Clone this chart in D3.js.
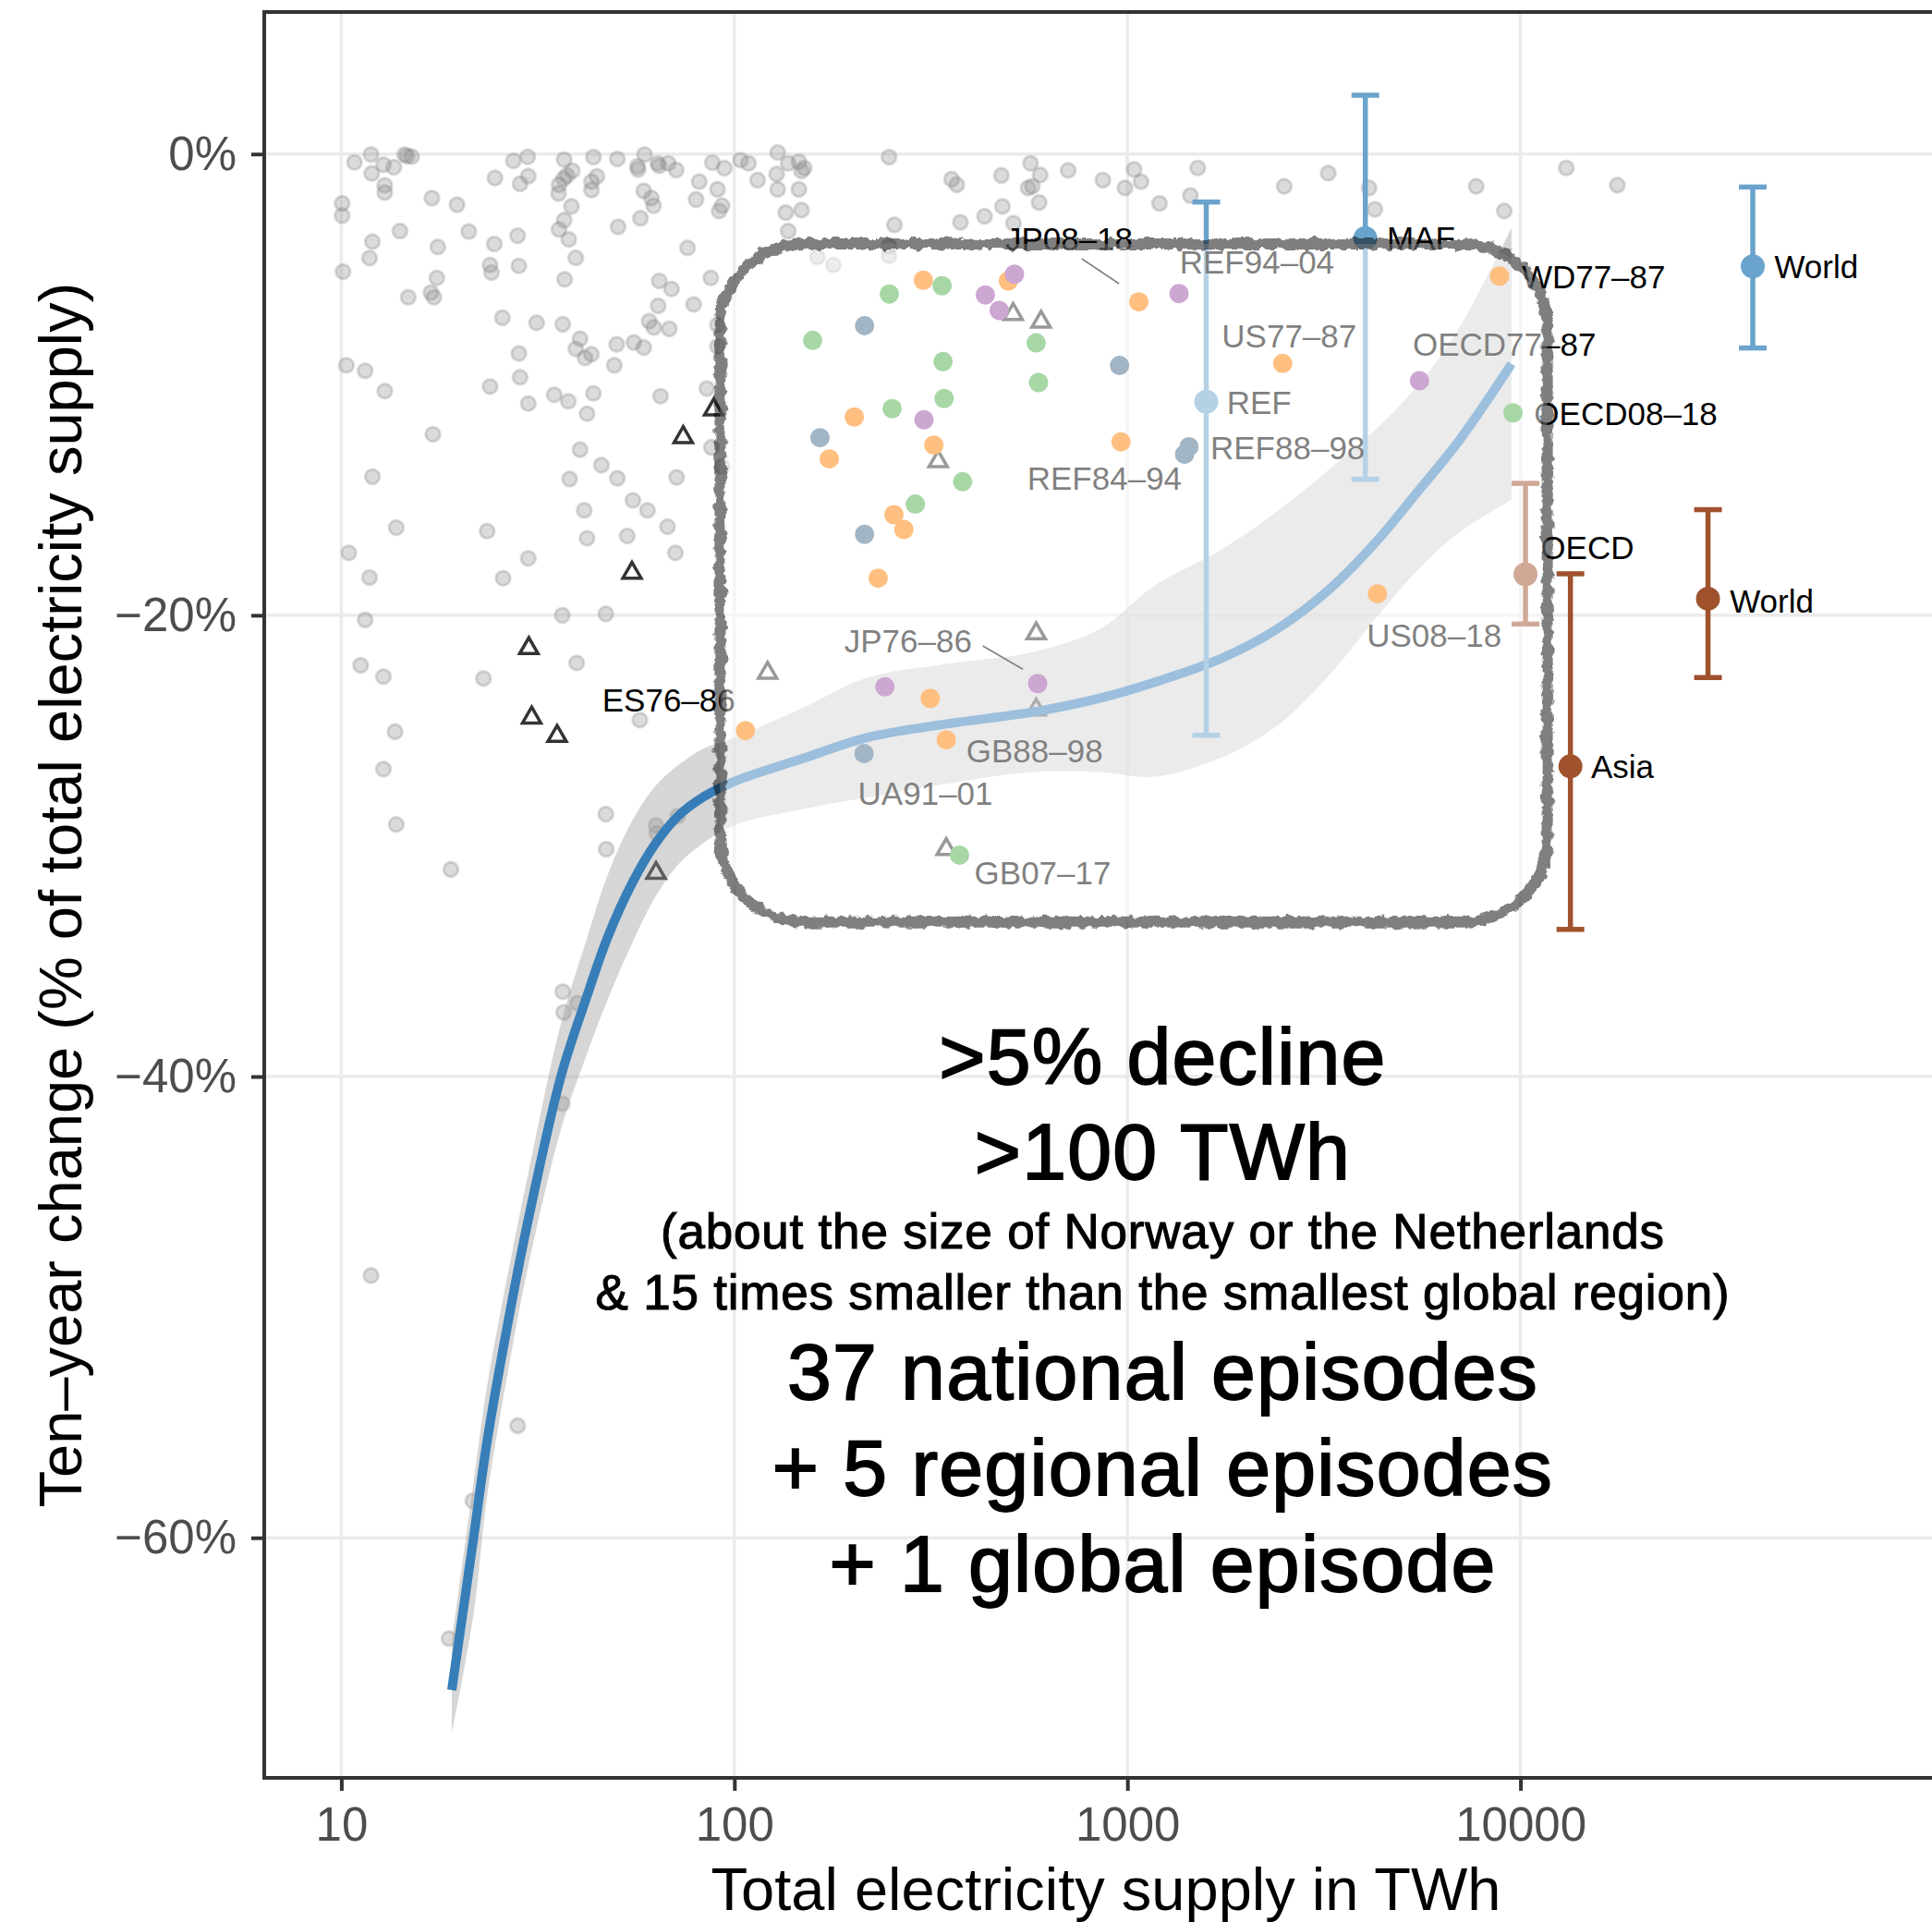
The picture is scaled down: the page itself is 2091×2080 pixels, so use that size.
<!DOCTYPE html>
<html lang="en">
  <head>
    <meta charset="utf-8">
    <title>Ten-year declines in electricity supply</title>
    <style>
      body { margin: 0; background: #fff; }
      svg { display: block; font-family: "Liberation Sans", Arial, Helvetica, sans-serif; }
    </style>
  </head>
  <body>
    <svg width="2091" height="2080"></svg>
    <script src="https://cdn.jsdelivr.net/npm/d3@7/dist/d3.min.js"></script>
    <script>
      // every other ten-year change: [TWh, % change]
      const otherEpisodes = [
        [10.8,-0.36],[11.9,-0.02],[11.95,-0.84],[12.8,-0.46],[13.6,-0.57],[14.5,-0.02],[14.7,-0.09],[15.1,-0.11],
        [12.9,-1.36],[12.9,-1.67],[10.05,-2.14],[10.05,-2.67],[17.0,-1.91],[19.7,-2.2],[24.6,-1.04],[27.4,-0.29],
        [29.8,-0.12],[29.9,-0.96],[28.5,-1.29],[36.9,-0.24],[38.7,-0.73],[36.8,-1.07],[35.8,-1.33],[35.7,-1.71],
        [37.5,-0.93],[43.8,-0.13],[44.7,-0.97],[43.3,-1.2],[43.3,-1.56],[50.4,-0.21],[56.7,-0.53],[56.9,-0.67],
        [59.1,-0.02],[63.8,-0.4],[64.4,-0.51],[67.9,-0.4],[71.1,-0.69],[58.8,-1.6],[61.5,-1.91],[62.3,-2.24],
        [81.4,-1.2],[79.9,-1.97],[90.6,-1.53],[93.1,-2.24],[91.5,-2.47],[87.9,-0.37],[94.3,-0.61],[38.5,-2.27],
        [36.9,-2.87],[35.8,-3.27],[37.9,-3.7],[39.5,-4.5],[37.0,-5.43],[50.6,-3.16],[57.7,-2.78],[14.1,-3.34],
        [12.0,-3.8],[11.8,-4.51],[10.1,-5.1],[17.6,-4.03],[21.1,-3.36],[24.5,-3.9],[28.1,-3.54],[23.9,-4.81],
        [24.1,-5.14],[28.3,-4.85],[17.5,-5.37],[16.9,-6.01],[17.2,-6.21],[14.8,-6.21],[76.0,-4.07],[87.1,-5.37],
        [64.4,-5.5],[69.2,-5.85],[64.0,-6.58],[78.8,-6.52],[60.7,-7.25],[62.4,-7.52],[68.3,-7.58],[25.7,-7.1],
        [31.4,-7.32],[36.6,-7.38],[40.5,-8.01],[39.5,-8.45],[41.7,-8.84],[43.3,-8.68],[50.2,-8.25],[55.5,-8.17],
        [58.8,-8.39],[49.5,-9.16],[28.3,-8.65],[28.5,-9.68],[23.9,-10.08],[29.9,-10.82],[34.8,-10.44],[37.8,-10.72],
        [43.8,-10.38],[42.2,-11.26],[64.9,-10.5],[85.1,-10.17],[10.3,-9.16],[11.5,-9.4],[12.9,-10.28],[17.1,-12.15],
        [40.5,-12.82],[45.9,-13.49],[50.4,-14.06],[71.3,-14.02],[87.4,-12.72],[12.0,-13.99],[38.1,-14.09],
        [90.6,-7.41],[90.6,-8.34],[93.1,-13.55],
        [13.8,-16.2],[10.45,-17.29],[11.8,-18.36],[11.5,-20.2],[11.2,-22.17],[12.8,-22.66],[13.7,-25.05],[12.8,-26.67],
        [13.8,-29.07],[19.0,-31.02],[23.5,-16.35],[29.9,-17.53],[25.8,-18.39],[23.0,-22.74],[36.5,-20.0],[47.1,-19.94],
        [39.7,-22.07],[57.5,-24.54],[55.2,-15.02],[60.1,-15.45],[41.5,-15.45],[42.2,-16.66],[53.4,-16.56],[67.6,-16.16],
        [70.8,-17.29],[47.1,-28.62],[47.2,-30.14],[63.2,-29.11],[63.5,-29.45],[71.7,-28.71],
        [36.6,-36.32],[36.8,-37.22],[39.9,-36.82],[36.5,-41.18],[11.9,-48.63],[28.1,-55.14],[21.6,-58.4],[18.8,-64.37],
        [103.7,-0.26],[108.6,-0.4],[128.9,0.07],[137.1,-0.4],[145.9,-0.33],[150.6,-0.6],[148.2,-0.73],[114.6,-1.13],
        [128.1,-0.87],[128.9,-1.53],[145.9,-1.53],[135.1,-2.54],[148.2,-2.43],[137.1,-3.34],[247.5,-0.13],[255.4,-3.07],
        [357,-1.09],[368,-1.33],[376,-2.96],[433,-2.7],[478,-0.93],[481,-2.27],[513,-3.0],[567,-0.4],
        [600,-0.91],[559,-1.47],[573,-1.4],[596,-2.1],[707,-0.71],[866,-1.13],[986,-1.47],[1040,-0.67],
        [1083,-1.2],[1207,-2.14],[1446,-1.8],[1510,-0.6],[2506,-1.4],[3243,-0.83],[4119,-1.47],[4261,-2.4],
        [7716,-1.4],[9095,-2.47],[13080,-0.6],[17640,-1.35],
        [162.7,-4.47],[178.6,-4.81],[247.5,-4.0],[247.5,-4.41]
      ];

      // declines of more than 5% but smaller than 100 TWh
      const smallDeclines = [
        [88.6,-11.08],[74.1,-12.28],[54.9,-18.16],[30.0,-21.43],[30.5,-24.44],[35.4,-25.24],[63.2,-31.18],
        [512,-6.94],[603,-7.28],[330,-13.33],[121.5,-22.5],[586,-20.79],[586,-24.09],[346,-30.14]
      ];

      // the 43 large episodes: [TWh, % change, series]
      const largeDeclines = [
        [302.5,-5.47,0],[498,-5.5,0],[1069,-6.41,0],[201.9,-11.4,0],[321.7,-12.62,0],[174.4,-13.22,0],
        [254.7,-15.64,0],[269.9,-16.28,0],[232.2,-18.39,0],[963,-12.48,0],[315,-23.6,0],[106.7,-25.0,0],
        [346,-25.4,0],[4325,-19.07,0],[2483,-9.08,0],[8844,-5.29,0],
        [337.6,-5.71,1],[247.9,-6.07,1],[158.2,-8.08,1],[586,-8.19,1],[339.6,-9.0,1],[594,-9.91,1],
        [341.7,-10.6,1],[252,-11.04,1],[380.8,-14.21,1],[288.7,-15.18,1],[374,-30.4,1],[9573,-11.22,1],
        [516,-5.21,2],[435,-6.11,2],[472,-6.78,2],[303.7,-11.52,2],[1353,-6.05,2],[241.5,-23.1,2],
        [591,-22.96,2],[5534,-9.83,2],
        [214.4,-7.44,3],[955,-9.17,3],[165.1,-12.3,3],[214.4,-16.49,3],[1434,-12.69,3],[1398,-13.02,3],
        [213.8,-26.0,3]
      ];
      const seriesColours = ['#ff7f00', '#4daf4a', '#984ea3', '#456b8b'];

      // regional and global averages with ranges
      const regionNames = ['REF', 'MAF', 'World', 'OECD', 'Asia', 'World'];
      const regionTWh = [1587, 4030, 39000, 10300, 13400, 30000];
      const regionMid = [-10.74, -3.65, -4.87, -18.22, -26.55, -19.28];
      const regionLow = [-25.2, -14.1, -8.41, -20.38, -33.62, -22.7];
      const regionHigh = [-2.08, 2.55, -1.43, -14.28, -18.2, -15.42];
      const regionGroup = [0, 0, 0, 1, 1, 1];
      const groupColours = ['#6aa3cc', '#a0522d'];

      // smoothed fit and its confidence band
      const fitTWh = [19.1, 21.7, 23.5, 27, 29.9, 36.2, 42, 47.5, 55, 63, 72, 83, 100, 150, 218, 350, 573, 850, 1175, 1718, 2400, 3300, 4300, 5500, 7000, 9490];
      const fitMid = [-66.6, -60, -55.8, -50, -46.2, -40, -36.6, -34, -31.6, -29.9, -28.7, -27.9, -27.2, -26.2, -25.3, -24.7, -24.2, -23.6, -22.9, -21.9, -20.6, -18.8, -16.8, -14.6, -12.4, -9.1];
      const fitLow = [-68.5, -63.3, -58.2, -52.1, -48.2, -42.3, -39.1, -36.7, -34.2, -32.2, -30.8, -29.9, -29.1, -28.4, -27.9, -27.3, -26.8, -26.8, -27.0, -26.2, -24.8, -22.5, -20.1, -18.0, -16.4, -15.0];
      const fitHigh = [-64.5, -57.6, -53.4, -47.9, -44.2, -37.7, -34.1, -31.3, -28.9, -27.4, -26.5, -25.8, -25.3, -24.0, -22.7, -22.1, -21.6, -20.6, -18.7, -17.2, -15.5, -13.6, -11.9, -10.0, -7.5, -3.2];

      // episode labels: [text, TWh, %] (text start, baseline)
      const episodeLabels = [
        ['JP08–18', 488.6, -4.18], ['REF94–04', 1358, -5.2], ['US77–87', 1738, -8.4], ['OECD77–87', 5318, -8.73],
        ['REF88–98', 1626, -13.23], ['REF84–94', 556, -14.56], ['US08–18', 4064, -21.35], ['ES76–86', 46.1, -24.17],
        ['JP76–86', 190.3, -21.6], ['GB88–98', 388.9, -26.39], ['UA91–01', 206.3, -28.21], ['GB07–17', 408, -31.65],
        ['WD77–87', 10070, -5.82], ['OECD08–18', 10830, -11.76]
      ];
      const regionLabels = [
        ['REF', 1790, -11.27], ['MAF', 4571, -4.13], ['World', 44260, -5.4],
        ['OECD', 11250, -17.58], ['Asia', 15120, -27.04], ['World', 34100, -19.88]
      ];
      const leaders = [
        [[765, -4.54], [952, -5.62]],
        [[428.6, -21.33], [542, -22.34]]
      ];

      // highlighted box: >100 TWh and >5% decline
      const boxTWh = [92, 11700];
      const boxPct = [-3.9, -33.3];

      const xTicks = [10, 100, 1000, 10000];
      const yTicks = [0, -20, -40, -60];

      const headLines = ['>5% decline', '>100 TWh'];
      const noteLines = ['(about the size of Norway or the Netherlands', '& 15 times smaller than the smallest global region)'];
      const countLines = ['37 national episodes', '+ 5 regional episodes', '+ 1 global episode'];

      const panel = { left: 286, right: 2108, top: 13, bottom: 1924 };

      const x = d3.scaleLog().domain([10, 10000]).range([369.4, 1645.6]);
      const y = d3.scaleLinear().domain([0, -60]).range([166.7, 1664.2]);

      const svg = d3.select('svg');

      const defs = svg.append('defs');
      const rough = defs.append('filter').attr('id', 'rough')
        .attr('x', '-5%').attr('y', '-5%').attr('width', '110%').attr('height', '110%');
      rough.append('feTurbulence').attr('type', 'fractalNoise').attr('baseFrequency', 0.11)
        .attr('numOctaves', 3).attr('seed', 7).attr('result', 'noise');
      rough.append('feDisplacementMap').attr('in', 'SourceGraphic').attr('in2', 'noise')
        .attr('scale', 9).attr('xChannelSelector', 'R').attr('yChannelSelector', 'G');

      // grid
      const grid = svg.append('g');
      grid.selectAll('.gx').data(xTicks).enter().append('line')
        .attr('x1', d => x(d)).attr('x2', d => x(d))
        .attr('y1', panel.top).attr('y2', panel.bottom)
        .attr('stroke', '#ebebeb').attr('stroke-width', 3.5);
      grid.selectAll('.gy').data(yTicks).enter().append('line')
        .attr('x1', panel.left).attr('x2', panel.right)
        .attr('y1', d => y(d)).attr('y2', d => y(d))
        .attr('stroke', '#ebebeb').attr('stroke-width', 3.5);

      // background episodes
      svg.append('g').selectAll('circle')
        .data(otherEpisodes).enter()
        .append('circle')
        .attr('cx', d => x(d[0]))
        .attr('cy', d => y(d[1]))
        .attr('r', 7.8)
        .attr('fill', '#888').attr('fill-opacity', 0.3)
        .attr('stroke', '#888').attr('stroke-opacity', 0.3).attr('stroke-width', 3);

      svg.append('g').selectAll('path')
        .data(smallDeclines).enter()
        .append('path')
        .attr('d', d3.symbol(d3.symbolTriangle, 170))
        .attr('transform', d => `translate(${x(d[0])},${y(d[1])})`)
        .attr('fill', 'none').attr('stroke', '#333').attr('stroke-width', 3.5);

      // smooth fit
      const fit = fitTWh.map((t, i) => ({ t: t, mid: fitMid[i], lo: fitLow[i], hi: fitHigh[i] }));
      const smooth = d3.curveCatmullRom.alpha(0.5);
      svg.append('path')
        .datum(fit)
        .attr('d', d3.area().curve(smooth)
          .x(d => x(d.t)).y0(d => y(d.lo)).y1(d => y(d.hi)))
        .attr('fill', '#999').attr('fill-opacity', 0.4);
      svg.append('path')
        .datum(fit)
        .attr('d', d3.line().curve(smooth).x(d => x(d.t)).y(d => y(d.mid)))
        .attr('fill', 'none').attr('stroke', '#377eb8').attr('stroke-width', 10);

      // large national episodes
      svg.append('g').selectAll('circle')
        .data(largeDeclines).enter()
        .append('circle')
        .attr('cx', d => x(d[0]))
        .attr('cy', d => y(d[1]))
        .attr('r', 10.5)
        .attr('fill', d => seriesColours[d[2]]);

      // regional ranges
      const regions = regionNames.map((n, i) => ({
        name: n, t: regionTWh[i], mid: regionMid[i], lo: regionLow[i], hi: regionHigh[i], g: regionGroup[i]
      }));
      const bars = svg.append('g').selectAll('g')
        .data(regions).enter()
        .append('g')
        .attr('stroke', d => groupColours[d.g])
        .attr('fill', d => groupColours[d.g]);
      bars.append('line')
        .attr('x1', d => x(d.t)).attr('x2', d => x(d.t))
        .attr('y1', d => y(d.lo)).attr('y2', d => y(d.hi))
        .attr('stroke-width', 5.5);
      bars.selectAll('.cap')
        .data(d => [d.lo, d.hi].map(v => ({ t: d.t, v: v }))).enter()
        .append('line')
        .attr('x1', d => x(d.t) - 15).attr('x2', d => x(d.t) + 15)
        .attr('y1', d => y(d.v)).attr('y2', d => y(d.v))
        .attr('stroke-width', 5.5);
      bars.append('circle')
        .attr('cx', d => x(d.t)).attr('cy', d => y(d.mid))
        .attr('r', 13).attr('stroke', 'none');

      // labels
      svg.append('g').selectAll('line')
        .data(leaders).enter()
        .append('line')
        .attr('x1', d => x(d[0][0])).attr('y1', d => y(d[0][1]))
        .attr('x2', d => x(d[1][0])).attr('y2', d => y(d[1][1]))
        .attr('stroke', '#000').attr('stroke-width', 1.6);
      svg.append('g').selectAll('text')
        .data(episodeLabels.concat(regionLabels)).enter()
        .append('text')
        .attr('x', d => x(d[1]))
        .attr('y', d => y(d[2]))
        .attr('font-size', 35)
        .attr('fill', '#000')
        .text(d => d[0]);

      // highlight box
      const bx0 = x(boxTWh[0]), bx1 = x(boxTWh[1]);
      const by0 = y(boxPct[0]), by1 = y(boxPct[1]);
      svg.append('rect')
        .attr('x', bx0).attr('y', by0)
        .attr('width', bx1 - bx0).attr('height', by1 - by0)
        .attr('rx', 90).attr('ry', 90)
        .attr('fill', '#fff').attr('fill-opacity', 0.5);
      svg.append('rect')
        .attr('x', bx0).attr('y', by0)
        .attr('width', bx1 - bx0).attr('height', by1 - by0)
        .attr('rx', 90).attr('ry', 90)
        .attr('fill', 'none')
        .attr('stroke', '#000').attr('stroke-opacity', 0.5).attr('stroke-width', 12)
        .attr('filter', 'url(#rough)');

      // axes
      const xAxis = svg.append('g')
        .attr('transform', `translate(0,${panel.bottom})`)
        .call(d3.axisBottom(x).tickValues(xTicks).tickFormat(d3.format('d'))
          .tickSize(14).tickPadding(18).tickSizeOuter(0));
      const yAxis = svg.append('g')
        .attr('transform', `translate(${panel.left},0)`)
        .call(d3.axisLeft(y).tickValues(yTicks)
          .tickFormat(d => (d < 0 ? '\u2212' : '') + Math.abs(d) + '%')
          .tickSize(14).tickPadding(16).tickSizeOuter(0));
      [xAxis, yAxis].forEach(a => {
        a.attr('font-family', null).attr('font-size', null);
        a.select('.domain').remove();
        a.selectAll('.tick line').attr('stroke', '#333').attr('stroke-width', 4);
        a.selectAll('.tick text').attr('fill', '#4d4d4d').attr('font-size', 51);
      });

      svg.append('rect')
        .attr('x', panel.left).attr('y', panel.top)
        .attr('width', panel.right - panel.left).attr('height', panel.bottom - panel.top)
        .attr('fill', 'none').attr('stroke', '#333').attr('stroke-width', 4);

      svg.append('text')
        .attr('x', (panel.left + panel.right) / 2).attr('y', 2067)
        .attr('text-anchor', 'middle').attr('font-size', 65)
        .text('Total electricity supply in TWh');
      svg.append('text')
        .attr('transform', `translate(88,${(panel.top + panel.bottom) / 2}) rotate(-90)`)
        .attr('text-anchor', 'middle').attr('font-size', 65)
        .text('Ten–year change (% of total electricity supply)');

      // annotation
      const ax = x(1230);
      const note = svg.append('g').attr('text-anchor', 'middle').attr('fill', '#000').attr('stroke', '#000');
      note.selectAll('.head').data(headLines).enter().append('text')
        .attr('x', ax).attr('y', (d, i) => y(-40.32) + i * 103)
        .attr('font-size', 86).attr('letter-spacing', 1.2).attr('stroke-width', 1.8).text(d => d);
      note.selectAll('.sub').data(noteLines).enter().append('text')
        .attr('x', ax).attr('y', (d, i) => y(-47.45) + i * 66)
        .attr('font-size', 53).attr('letter-spacing', 0.8).attr('stroke-width', 1.1).text(d => d);
      note.selectAll('.count').data(countLines).enter().append('text')
        .attr('x', ax).attr('y', (d, i) => y(-53.97) + i * 104)
        .attr('font-size', 86).attr('letter-spacing', 1.2).attr('stroke-width', 1.8).text(d => d);
    </script>
  </body>
</html>
